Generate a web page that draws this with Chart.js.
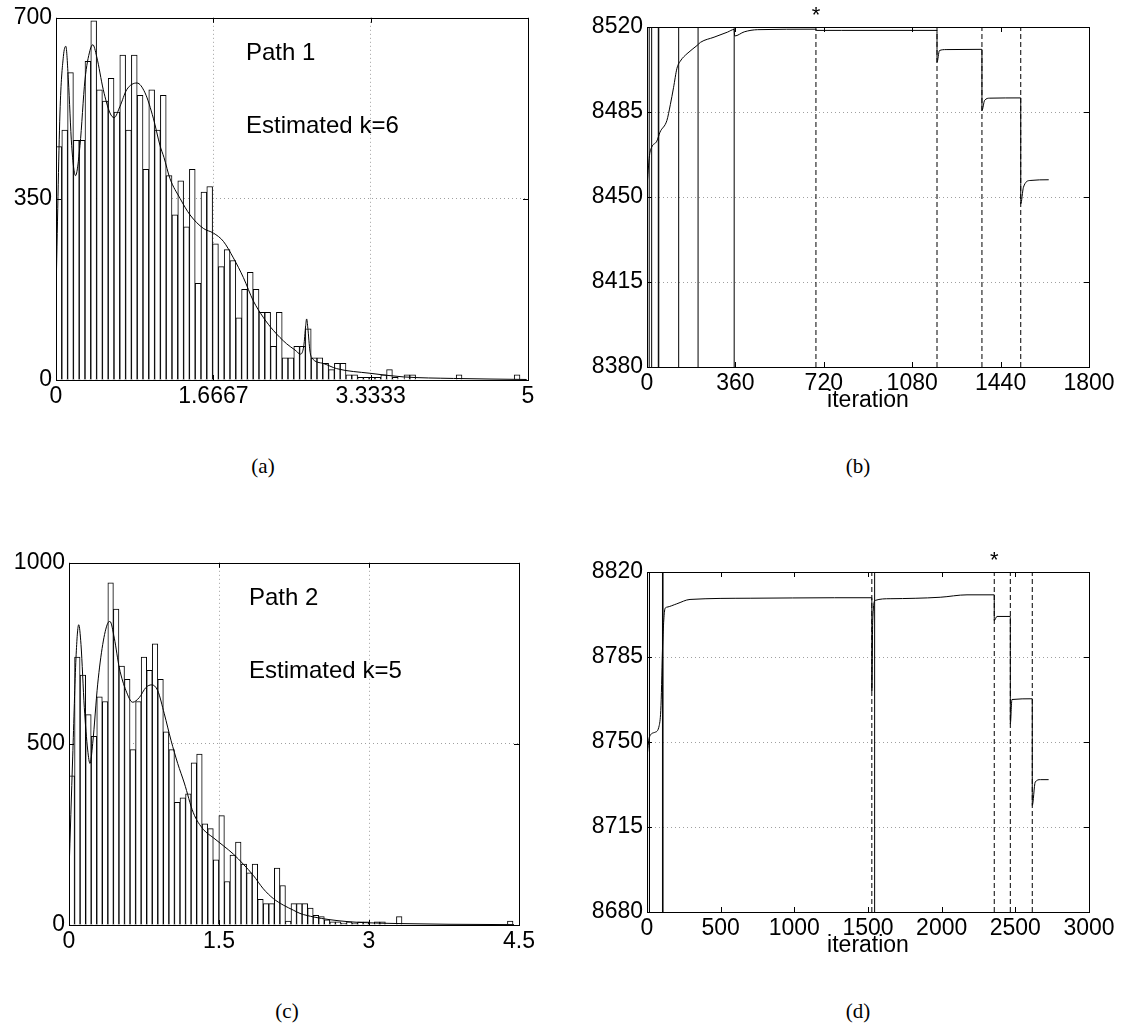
<!DOCTYPE html>
<html>
<head>
<meta charset="utf-8">
<title>Path histograms and iteration traces</title>
<script src="https://cdn.jsdelivr.net/npm/chart.js@4.4.1/dist/chart.umd.min.js"></script>
<style>
  body { margin: 0; background: #fff; }
  #fig { position: relative; width: 1128px; height: 1032px; overflow: hidden; background: #fff; }
  #fig canvas { position: absolute; }
  .cap { position: absolute; width: 80px; margin-left: -40px; text-align: center;
         font: 21px 'Liberation Serif', 'DejaVu Serif', serif; color: #000; }
</style>
</head>
<body>
<div id="fig">
  <canvas id="chart-a" width="564" height="430" style="left:0;top:0"></canvas>
  <canvas id="chart-b" width="564" height="430" style="left:564px;top:0"></canvas>
  <canvas id="chart-c" width="564" height="430" style="left:0;top:545px"></canvas>
  <canvas id="chart-d" width="564" height="430" style="left:564px;top:545px"></canvas>
  <div class="cap" style="left:263px;top:454px">(a)</div>
  <div class="cap" style="left:858px;top:454px">(b)</div>
  <div class="cap" style="left:287px;top:999px">(c)</div>
  <div class="cap" style="left:858px;top:999px">(d)</div>
</div>
<script>
// ---- Path 1: histogram (80 bins) and fitted mixture density ----
const rangeA = [0, 4.915];
const countsA = [451,483,594,463,463,616,694,561,539,583,518,628,483,628,550,407,561,483,550,395,319,
  385,296,407,187,363,374,263,219,252,231,120,175,208,175,131,131,65,131,43,43,
  65,65,99,43,43,32,20,32,32,
  10,10,5,5,5,5,10,20,5,0,10,10,0,0,0,0,0,0,0,10,0,0,0,0,0,0,0,0,0,10];
const densityA = [[0,166],[0.042,516],[0.078,625],[0.104,645],[0.131,580],[0.166,453],[0.207,395],
  [0.254,453],[0.307,580],[0.36,637],[0.39,648],[0.431,625],[0.501,561],[0.572,516],[0.616,507],
  [0.678,529],[0.749,561],[0.858,574],[0.943,555],[1.031,506],[1.102,453],[1.144,430],[1.208,389],
  [1.314,351],[1.42,319],[1.561,293],[1.667,284],[1.773,268],[1.879,236],[1.985,198],[2.09,153],
  [2.196,121],[2.302,96],[2.443,70],[2.532,58],[2.59,50],[2.625,66],[2.645,105],[2.655,118],
  [2.668,100],[2.69,56],[2.71,43],[2.832,32],[2.973,22],[3.326,13],[3.679,6],[4.209,3],[4.986,1]];
const ticksXA = [0, 1.6667, 3.3333, 5];
const labelsXA = ['0', '1.6667', '3.3333', '5'];
const ticksYA = [0, 350, 700];
const labelsYA = ['0', '350', '700'];

// ---- Path 2: histogram (80 bins) and fitted mixture density ----
const rangeC = [0, 4.44];
const countsC = [412,740,690,581,521,630,617,945,872,715,678,484,617,740,703,776,678,533,484,339,351,
  362,448,472,279,266,180,302,120,193,229,168,144,168,71,59,59,157,109,11,59,59,
  59,47,27,23,14,9,9,5,9,5,9,9,0,9,9,0,0,23,
  0,0,0,0,0,0,0,0,0,0,0,0,0,0,0,0,0,0,0,11];
const densityC = [[0,146],[0.037,464],[0.07,738],[0.097,829],[0.12,774],[0.153,601],[0.187,483],
  [0.21,446],[0.237,501],[0.287,665],[0.337,774],[0.387,833],[0.41,838],[0.453,792],[0.503,710],
  [0.57,647],[0.637,615],[0.703,628],[0.77,656],[0.827,663],[0.887,647],[0.953,583],[1.02,510],
  [1.087,446],[1.153,392],[1.243,310],[1.343,264],[1.443,241],[1.543,219],[1.643,196],[1.743,168],
  [1.843,137],[1.943,100],[2.043,73],[2.143,55],[2.243,41],[2.31,32],[2.45,22],[2.6,15],[2.8,9],
  [3.0,6],[3.3,4],[3.8,2],[4.45,1]];
const ticksXC = [0, 1.5, 3, 4.5];
const labelsXC = ['0', '1.5', '3', '4.5'];
const ticksYC = [0, 500, 1000];
const labelsYC = ['0', '500', '1000'];

// ---- Path 1: objective per iteration ----
const traceB = [[0,8454],[10,8467],[19,8470.5],[40,8473],[53,8476.7],[81,8481.5],[95,8488],[108,8495],
  [122,8503],[136,8506],[163,8509],[204,8512.4],[218,8513.7],[273,8515.8],[328,8517.9],[355,8519],
  [357,8516.3],[396,8518],[451,8518.9],[684,8519.1],[688,8519.1],[690,8518.6],[793,8518.6],
  [1181,8518.6],[1181,8505.5],[1191,8510.3],[1218,8510.7],[1364,8510.8],[1364,8485.6],[1375,8489.8],
  [1396,8490.7],[1522,8490.8],[1522,8447.2],[1533,8454],[1560,8456.8],[1636,8457.1]];
const solidItersB = [9, 19, 46, 48, 129, 208, 355];
const dashedItersB = [688, 1181, 1364, 1522];
const starIterB = 688;
const ticksXB = [0, 360, 720, 1080, 1440, 1800];
const labelsXB = ['0', '360', '720', '1080', '1440', '1800'];
const ticksYB = [8380, 8415, 8450, 8485, 8520];
const labelsYB = ['8380', '8415', '8450', '8485', '8520'];

// ---- Path 2: objective per iteration ----
const traceD = [[0,8743.6],[16,8752],[54,8754],[83,8756.8],[95,8765],[106,8789.8],[122,8804.9],
  [134,8805.5],[202,8806.9],[292,8808.7],[700,8809.2],[1273,8809.4],[1526,8809.4],[1526,8771],
  [1532,8800],[1549,8808.3],[1650,8809],[1990,8809.6],[2172,8810.6],[2357,8810.6],[2357,8800],
  [2375,8801.7],[2466,8801.7],[2466,8757.5],[2477,8767.5],[2615,8767.8],[2615,8723.9],[2635,8733.5],
  [2670,8734.5],[2726,8734.5]];
const solidItersD = [4, 17, 105, 109, 1545];
const dashedItersD = [1526, 2357, 2466, 2615];
const starIterD = 2357;
const ticksXD = [0, 500, 1000, 1500, 2000, 2500, 3000];
const labelsXD = ['0', '500', '1000', '1500', '2000', '2500', '3000'];
const ticksYD = [8680, 8715, 8750, 8785, 8820];
const labelsYD = ['8680', '8715', '8750', '8785', '8820'];

const FONT = 'Liberation Sans';
const TICK_FONT = { family: FONT, size: 23, lineHeight: 1.2 };

// inner tick marks on all four sides plus the axes box
const boxTicks = {
  id: 'boxTicks',
  afterDatasetsDraw(chart) {
    const { ctx, chartArea: a, scales: { x, y } } = chart;
    const len = 5;
    ctx.save();
    ctx.strokeStyle = '#000';
    ctx.lineWidth = 1;
    ctx.beginPath();
    x.ticks.forEach(t => {
      const px = Math.round(x.getPixelForValue(t.value)) + 0.5;
      ctx.moveTo(px, a.bottom); ctx.lineTo(px, a.bottom - len);
      ctx.moveTo(px, a.top); ctx.lineTo(px, a.top + len);
    });
    y.ticks.forEach(t => {
      const py = Math.round(y.getPixelForValue(t.value)) + 0.5;
      ctx.moveTo(a.left, py); ctx.lineTo(a.left + len, py);
      ctx.moveTo(a.right, py); ctx.lineTo(a.right - len, py);
    });
    ctx.stroke();
    ctx.strokeRect(Math.round(a.left) + 0.5, Math.round(a.top) + 0.5,
                   Math.round(a.width), Math.round(a.height));
    ctx.restore();
  }
};

// free text: pixel positions, or an x data value for the marker stars
const panelText = {
  id: 'panelText',
  afterDraw(chart, args, opts) {
    const { ctx, scales: { x } } = chart;
    ctx.save();
    ctx.fillStyle = '#000';
    ctx.textBaseline = 'alphabetic';
    (opts.items || []).forEach(it => {
      ctx.font = (it.size || 24) + 'px "' + FONT + '"';
      ctx.textAlign = it.align || 'left';
      const px = it.atX !== undefined ? x.getPixelForValue(it.atX) : it.left;
      ctx.fillText(it.text, px, it.baseline);
    });
    ctx.restore();
  }
};

const innerGrid = ctx =>
  (ctx.index === 0 || ctx.index === ctx.scale.ticks.length - 1) ? 'rgba(0,0,0,0)' : '#a0a0a0';

function fixedTicks(values) {
  return scale => { scale.ticks = values.map(v => ({ value: v })); };
}

// frame = canvas size and plot area edges in canvas pixels
function axesOptions(frame, xt, xl, yt, yl, gridX, xTitle, notes) {
  return {
    responsive: false,
    animation: false,
    layout: { padding: { left: 0, top: frame.top, right: frame.w - frame.right, bottom: 0 } },
    plugins: {
      legend: { display: false },
      tooltip: { enabled: false },
      panelText: { items: notes }
    },
    scales: {
      x: {
        type: 'linear',
        offset: false,
        min: xt[0],
        max: xt[xt.length - 1],
        afterBuildTicks: fixedTicks(xt),
        afterFit: s => { s.height = frame.h - frame.bottom; },
        ticks: { callback: (v, i) => xl[i], color: '#000', font: TICK_FONT, padding: 3,
                 maxRotation: 0, autoSkip: false },
        grid: { display: gridX, offset: false, drawTicks: false, color: innerGrid, lineWidth: 1 },
        border: { display: false, dash: [1, 3] },
        title: xTitle
          ? { display: true, text: xTitle, color: '#000', font: TICK_FONT, padding: { top: 0, bottom: 16 } }
          : { display: false }
      },
      y: {
        type: 'linear',
        min: yt[0],
        max: yt[yt.length - 1],
        afterBuildTicks: fixedTicks(yt),
        afterFit: s => { s.width = frame.left; },
        ticks: { callback: (v, i) => yl[i], color: '#000', font: TICK_FONT, padding: 4 },
        grid: { drawTicks: false, color: innerGrid, lineWidth: 1 },
        border: { display: false, dash: [1, 3] }
      }
    }
  };
}

function histogramChart(id, frame, range, counts, density, xt, xl, yt, yl, notes) {
  const width = (range[1] - range[0]) / counts.length;
  const bars = counts.map((c, i) => ({ x: range[0] + (i + 0.5) * width, y: c }));
  new Chart(document.getElementById(id), {
    type: 'bar',
    data: {
      datasets: [
        {
          type: 'line',
          data: density.map(p => ({ x: p[0], y: p[1] })),
          borderColor: '#000',
          borderWidth: 1,
          pointRadius: 0,
          fill: false,
          cubicInterpolationMode: 'monotone',
          order: 1
        },
        {
          type: 'bar',
          data: bars,
          backgroundColor: '#fff',
          borderColor: '#000',
          borderWidth: 1,
          barPercentage: 1,
          categoryPercentage: 1,
          order: 2
        }
      ]
    },
    options: axesOptions(frame, xt, xl, yt, yl, true, null, notes),
    plugins: [boxTicks, panelText]
  });
}

function traceChart(id, frame, trace, solid, dashed, xt, xl, yt, yl, notes) {
  const lo = yt[0], hi = yt[yt.length - 1];
  const verticals = (iters, dash) => iters.map(it => ({
    data: [{ x: it, y: lo }, { x: it, y: hi }],
    borderColor: '#000',
    borderWidth: 1,
    borderDash: dash,
    pointRadius: 0,
    fill: false
  }));
  new Chart(document.getElementById(id), {
    type: 'line',
    data: {
      datasets: [
        {
          data: trace.map(p => ({ x: p[0], y: p[1] })),
          borderColor: '#000',
          borderWidth: 1,
          pointRadius: 0,
          fill: false,
          cubicInterpolationMode: 'monotone'
        },
        ...verticals(solid, []),
        ...verticals(dashed, [5, 3])
      ]
    },
    options: axesOptions(frame, xt, xl, yt, yl, false, 'iteration', notes),
    plugins: [boxTicks, panelText]
  });
}

histogramChart('chart-a', { w: 564, h: 430, left: 56, right: 528, top: 14, bottom: 380 },
  rangeA, countsA, densityA, ticksXA, labelsXA, ticksYA, labelsYA,
  [{ text: 'Path 1', left: 246, baseline: 60 }, { text: 'Estimated k=6', left: 246, baseline: 133 }]);

traceChart('chart-b', { w: 564, h: 430, left: 83, right: 525, top: 27, bottom: 367 },
  traceB, solidItersB, dashedItersB, ticksXB, labelsXB, ticksYB, labelsYB,
  [{ text: '*', atX: starIterB, align: 'center', baseline: 22, size: 22 }]);

histogramChart('chart-c', { w: 564, h: 430, left: 69, right: 519, top: 14, bottom: 380 },
  rangeC, countsC, densityC, ticksXC, labelsXC, ticksYC, labelsYC,
  [{ text: 'Path 2', left: 249, baseline: 60 }, { text: 'Estimated k=5', left: 249, baseline: 133 }]);

traceChart('chart-d', { w: 564, h: 430, left: 83, right: 525, top: 27, bottom: 367 },
  traceD, solidItersD, dashedItersD, ticksXD, labelsXD, ticksYD, labelsYD,
  [{ text: '*', atX: starIterD, align: 'center', baseline: 22, size: 22 }]);
</script>
</body>
</html>
